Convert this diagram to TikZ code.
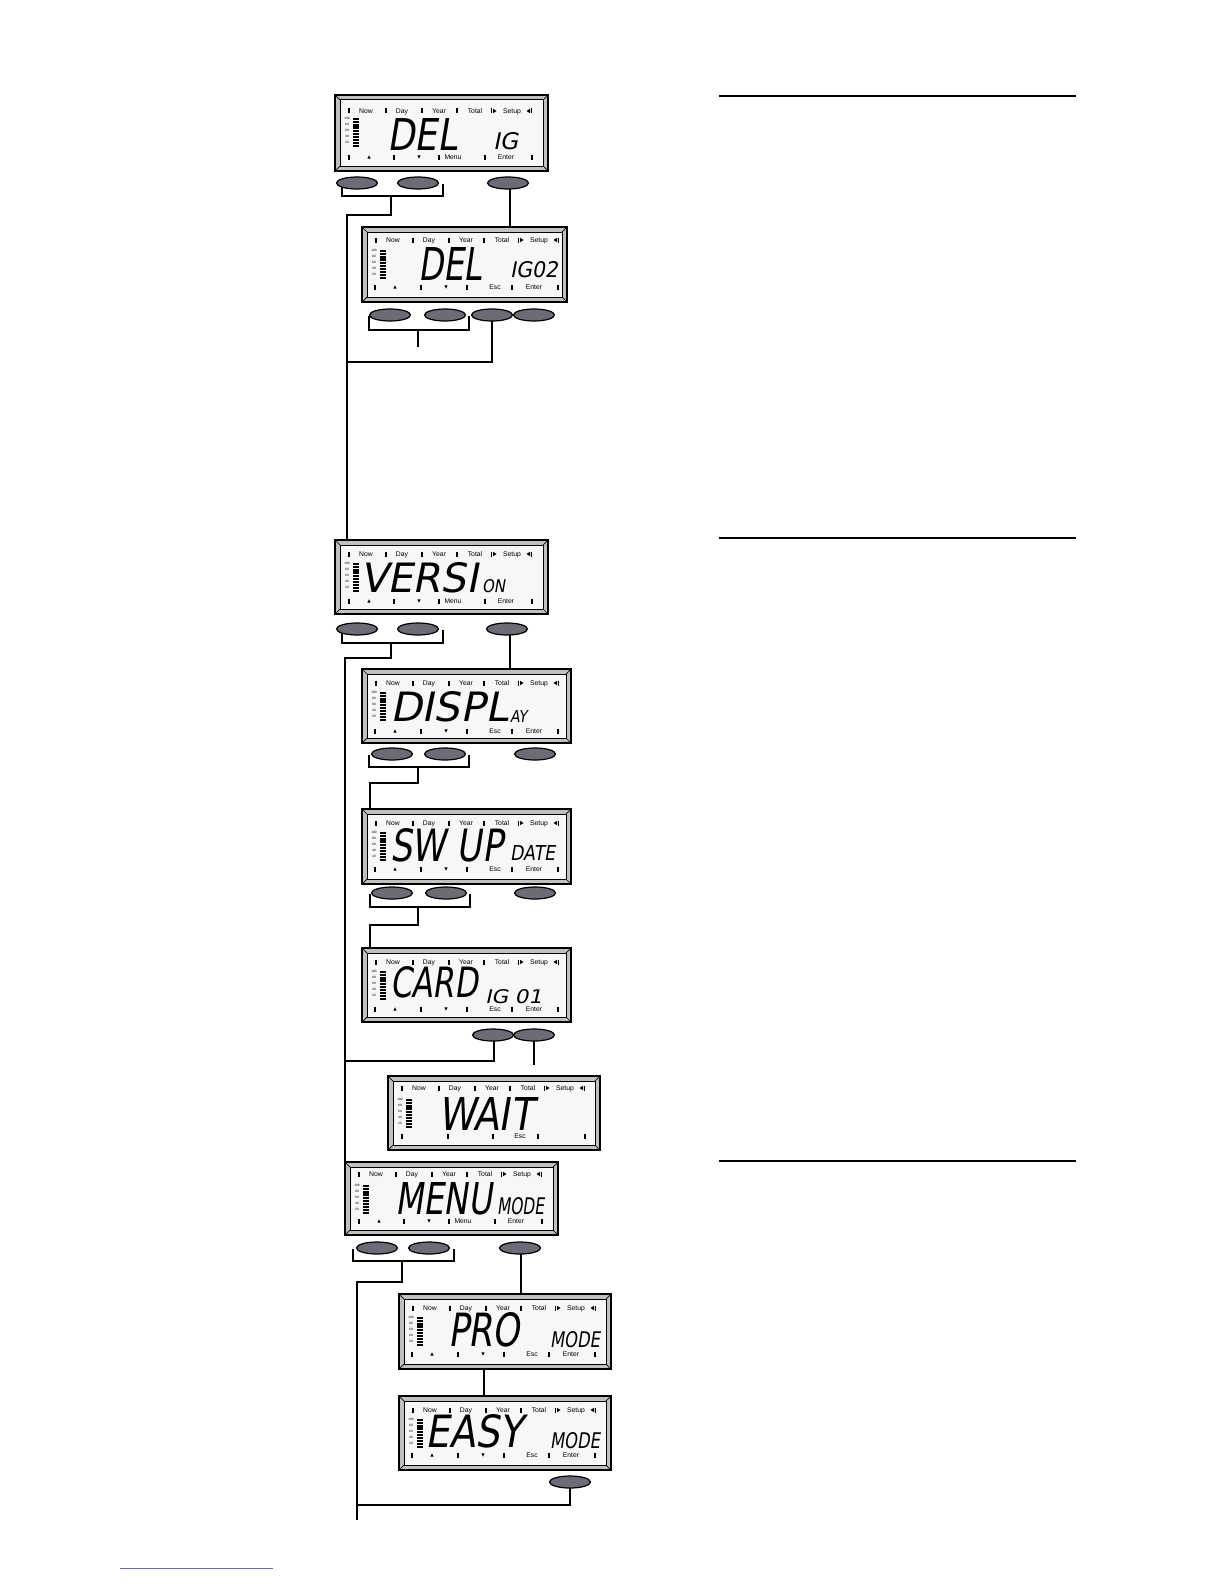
\documentclass[tikz,border=0pt]{standalone}
\usepackage{fontspec}
\usepackage{graphicx}
\usetikzlibrary{shapes.geometric,calc}
\newfontfamily\lblf{Liberation Sans}
\newfontfamily\lcdf{DejaVu Sans}[FakeSlant=0.2]
\definecolor{bevelgray}{RGB}{192,192,192}
\definecolor{screengray}{RGB}{247,247,247}
\definecolor{btngray}{RGB}{108,108,118}
\definecolor{linkblue}{RGB}{90,110,200}
\tikzset{
  conn/.style={line width=1pt},
  rulestyle/.style={line width=1pt},
  btn/.style={ellipse, draw=black, line width=0.6pt, fill=btngray, minimum width=20.5pt, minimum height=6pt, inner sep=0pt},
  lbl/.style={font=\lblf\fontsize{3.4}{4}\selectfont, inner sep=0pt, anchor=base},
  glbl/.style={font=\lblf\fontsize{1.6}{2}\selectfont, inner sep=0pt},
  segtxt/.style={inner sep=0pt},
  tick/.style={line width=0.55pt},
}
\def\tc{14}\def\bc{60}
\newcommand\botmenu[1]{%
  \foreach \t in {14,59,104,150,197} {\draw[tick] (\t,\bc-2.5)--(\t,\bc+2.5);}
  \fill (32.3,\bc+1.7)--(35.7,\bc+1.7)--(34,\bc-1.7)--cycle;
  \fill (82.3,\bc-1.7)--(85.7,\bc-1.7)--(84,\bc+1.7)--cycle;
  \node[lbl] (#1-menu) at (118,\bc+2.5) {Menu};
  \node[lbl] (#1-enter) at (171,\bc+2.5) {Enter};}
\newcommand\botesc[1]{%
  \foreach \t in {13,59,105,150,196} {\draw[tick] (\t,\bc-2.5)--(\t,\bc+2.5);}
  \fill (31.3,\bc+1.7)--(34.7,\bc+1.7)--(33,\bc-1.7)--cycle;
  \fill (82.3,\bc-1.7)--(85.7,\bc-1.7)--(84,\bc+1.7)--cycle;
  \node[lbl] (#1-esc) at (133,\bc+2.5) {Esc};
  \node[lbl] (#1-enter) at (172,\bc+2.5) {Enter};}
\newcommand\botwait[1]{%
  \foreach \t in {14,60,105,150,197} {\draw[tick] (\t,\bc-2.5)--(\t,\bc+2.5);}
  \node[lbl] (#1-esc) at (132,\bc+2.5) {Esc};}
\newcommand\lcd[6]{%
\begin{scope}[shift={(#2,#3)}]
  \node[draw=black,line width=0.6pt,fill=bevelgray,minimum width={#4*0.5pt},minimum height={#5*0.5pt},anchor=north west,inner sep=0pt,outer sep=0pt] (#1) at (0,0) {};
  \draw[line width=0.5pt,fill=screengray] (5,5) rectangle (#4-5,#5-5);
  \draw[line width=0.35pt] (0,0)--(5,5) (#4,0)--(#4-5,5) (0,#5)--(5,#5-5) (#4,#5)--(#4-5,#5-5);
  \foreach \t in {14,51,87,122} {\draw[tick] (\t,\tc-2.5)--(\t,\tc+2.5);}
  \node[lbl] (#1-now) at (31,\tc+2.5) {Now};
  \node[lbl] (#1-day) at (67,\tc+2.5) {Day};
  \node[lbl] (#1-year) at (104,\tc+2.5) {Year};
  \node[lbl] (#1-total) at (140,\tc+2.5) {Total};
  \node[lbl] (#1-setup) at (177,\tc+2.5) {Setup};
  \draw[tick] (156.5,\tc-2.5)--(156.5,\tc+2.5);
  \fill (158,\tc-2.2)--(161.5,\tc)--(158,\tc+2.2)--cycle;
  \fill (195,\tc-2.2)--(191.5,\tc)--(195,\tc+2.2)--cycle;
  \draw[tick] (196.5,\tc-2.5)--(196.5,\tc+2.5);
  \foreach \yy in {24,27,...,51} {\draw[line width=0.75pt] (18,\yy)--(24,\yy);}
  \fill (18,30) rectangle (24,34);
  \foreach \v/\yy in {100/23,80/29,60/35,40/41,20/47} {\node[glbl] (#1-g\v) at (12,\yy) {\v};}
  #6{#1}
\end{scope}}
\newcommand\seg[6]{\node[segtxt] (#1) at ($(#2.north west)+(#3)$) {\resizebox{#4pt}{#5pt}{\lcdf #6}};}

\begin{document}
\begin{tikzpicture}[x=0.5pt,y=-0.5pt]
\fill[white] (0,0) rectangle (1224,1584);
\useasboundingbox (0,0) rectangle (1224,1584);

% right-hand rules
\draw[rulestyle] (719,96) coordinate (r1a) -- (1076,96) coordinate (r1b);
\draw[rulestyle] (719,538) coordinate (r2a) -- (1076,538) coordinate (r2b);
\draw[rulestyle] (719,1161) coordinate (r3a) -- (1076,1161) coordinate (r3b);
\draw[linkblue, line width=0.5pt] (120,1568) coordinate (la) -- (273,1568) coordinate (lb);

% displays
\def\tc{16}\def\bc{62}
\lcd{del1}{335}{95}{213}{76}{\botmenu}
\seg{del1-big}{del1}{87,39.5}{35}{16}{DEL}
\seg{del1-small}{del1}{170.5,46.5}{12.5}{8.5}{IG}

\def\tc{13}\def\bc{60}
\lcd{del2}{362}{227}{205}{75}{\botesc}
\seg{del2-big}{del2}{88,36.5}{32}{16.5}{DEL}
\seg{del2-small}{del2}{172,43}{24}{8}{IG02}

\def\tc{14}\def\bc{61}
\lcd{vers}{335}{540}{213}{74}{\botmenu}
\seg{vers-big}{vers}{84,38}{59}{15}{VERSI}
\seg{vers-small}{vers}{158.5,46.5}{11.5}{6.5}{ON}

\def\tc{14}\def\bc{62}
\lcd{disp}{362}{669}{209}{74}{\botesc}
\seg{disp-big}{disp}{87,38}{59}{15}{DISPL}
\seg{disp-small}{disp}{156.5,47}{8.5}{6}{AY}

\def\tc{14}\def\bc{60}
\lcd{swup}{362}{809}{209}{75}{\botesc}
\seg{swup-big}{swup}{84.5,36}{56.5}{16.5}{SW UP}
\seg{swup-small}{swup}{170.5,43.5}{22.5}{7.5}{DATE}

\def\tc{14}\def\bc{61}
\lcd{card}{362}{948}{209}{74}{\botesc}
\seg{card-big}{card}{72,34.5}{44}{15.5}{CARD}
\seg{card-small}{card}{151.5,49}{28.5}{7}{IG 01}

\def\tc{12}\def\bc{60}
\lcd{wait}{388}{1076}{212}{74}{\botwait}
\seg{wait-big}{wait}{97.5,38}{47.5}{16.5}{WAIT}

\def\tc{12}\def\bc{59}
\lcd{menu}{345}{1162}{213}{73}{\botmenu}
\seg{menu-big}{menu}{98.5,37}{48.5}{16}{MENU}
\seg{menu-small}{menu}{175.5,44.5}{23.5}{8.5}{MODE}

\def\tc{14}\def\bc{60}
\lcd{pro}{399}{1294}{212}{75}{\botesc}
\seg{pro-big}{pro}{85,36}{36}{17}{PRO}
\seg{pro-small}{pro}{176,46}{25}{8}{MODE}

\def\tc{14}\def\bc{59}
\lcd{easy}{399}{1396}{212}{74}{\botesc}
\seg{easy-big}{easy}{75,35.5}{49}{16.5}{EASY}
\seg{easy-small}{easy}{176,45}{25}{8}{MODE}

% connectors
\coordinate (trunkA) at (347,215);
\coordinate (j1) at (391,196);
\draw[conn] (342,184) |- (j1) -| (443,184);
\draw[conn] (j1) |- (trunkA) -- (trunkA |- vers.north);
\coordinate (k1) at (510,183);
\draw[conn] (k1) -- (k1 |- del2.north);

\coordinate (j2) at (418,330);
\coordinate (free1) at (418,347);
\draw[conn] (369,316) |- (j2) -| (469,316);
\draw[conn] (j2) -- (free1);
\draw[conn] (492,316) |- (trunkA |- 0,362);

\coordinate (trunkB) at (345,658);
\coordinate (j3) at (391,643);
\draw[conn] (342,630) |- (j3) -| (443,630);
\draw[conn] (j3) |- (trunkB) -- (trunkB |- menu.north);
\coordinate (k3) at (510,629);
\draw[conn] (k3) -- (k3 |- disp.north);

\coordinate (j4) at (418,767);
\coordinate (k4) at (370,783);
\draw[conn] (369,755) |- (j4) -| (469,755);
\draw[conn] (j4) |- (k4) -- (k4 |- swup.north);

\coordinate (j5) at (418,907);
\coordinate (k5) at (370,925);
\draw[conn] (370,894) |- (j5) -| (470,894);
\draw[conn] (j5) |- (k5) -- (k5 |- card.north);

\coordinate (k6) at (494,1035);
\draw[conn] (k6) |- (trunkB |- 0,1061);
\coordinate (k7) at (534,1035);
\coordinate (free2) at (534,1065);
\draw[conn] (k7) -- (free2);

\coordinate (trunkC) at (357,1282);
\coordinate (j8) at (402,1261);
\coordinate (tail) at (357,1520);
\draw[conn] (353,1249) |- (j8) -| (454,1249);
\draw[conn] (j8) |- (trunkC) -- (tail);
\coordinate (k8) at (521,1248);
\draw[conn] (k8) -- (k8 |- pro.north);

\coordinate (k9) at (484,1369);
\draw[conn] (k9 |- pro.south) -- (k9 |- easy.north);

\coordinate (k10) at (570,1482);
\draw[conn] (k10) |- (trunkC |- 0,1505);

% buttons
\node[btn] (del1-b1) at (357,183) {};
\node[btn] (del1-b2) at (418,183) {};
\node[btn] (del1-b3) at (508,183) {};
\node[btn] (del2-b1) at (390,315) {};
\node[btn] (del2-b2) at (445,315) {};
\node[btn] (del2-b3) at (492,315) {};
\node[btn] (del2-b4) at (534,315) {};
\node[btn] (vers-b1) at (357,629) {};
\node[btn] (vers-b2) at (418,629) {};
\node[btn] (vers-b3) at (507,629) {};
\node[btn] (disp-b1) at (392,754) {};
\node[btn] (disp-b2) at (445,754) {};
\node[btn] (disp-b3) at (535,754) {};
\node[btn] (swup-b1) at (392,893) {};
\node[btn] (swup-b2) at (446,893) {};
\node[btn] (swup-b3) at (535,893) {};
\node[btn] (card-b1) at (493,1035) {};
\node[btn] (card-b2) at (534,1035) {};
\node[btn] (menu-b1) at (377,1248) {};
\node[btn] (menu-b2) at (429,1248) {};
\node[btn] (menu-b3) at (520,1248) {};
\node[btn] (easy-b1) at (570,1482) {};
\end{tikzpicture}
\end{document}
